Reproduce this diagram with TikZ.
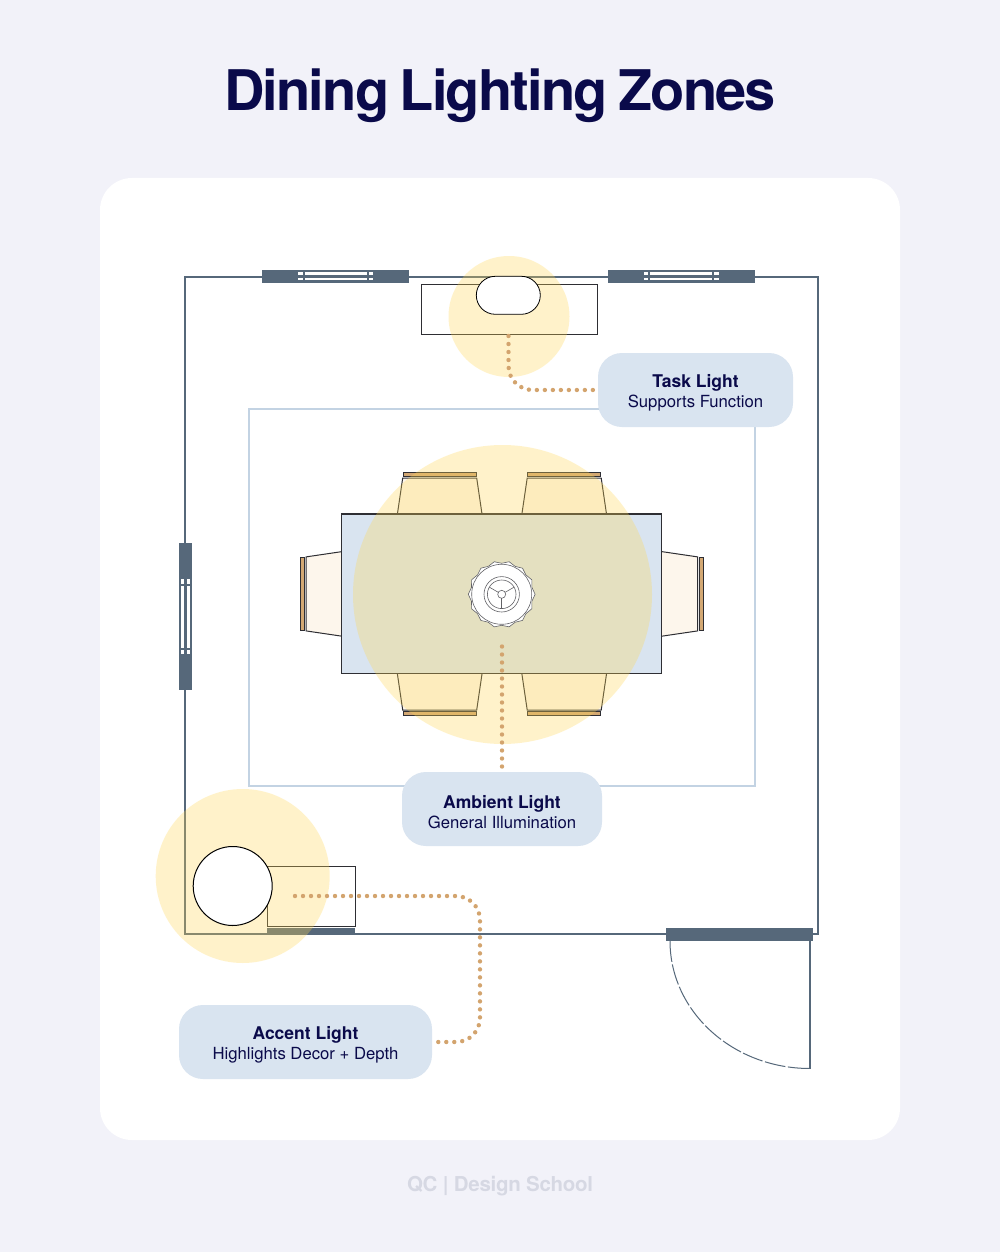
\documentclass[tikz,border=0pt]{standalone}
\usepackage{fontspec}
\setmainfont{TeX Gyre Heros}
\newfontfamily\titlefont[LetterSpace=-3.2,WordSpace=0.75]{TeX Gyre Heros}
\newfontfamily\footerfont[LetterSpace=-1.5]{TeX Gyre Heros}
\definecolor{pagebg}{HTML}{F2F2F9}
\definecolor{inkblue}{HTML}{0A0A4A}
\definecolor{wallgrey}{HTML}{56687A}
\definecolor{rugblue}{HTML}{C3D3E3}
\definecolor{paleblue}{HTML}{D9E4F0}
\definecolor{glowyellow}{HTML}{FFD752}
\definecolor{seatcream}{HTML}{FDF6EC}
\definecolor{backtan}{HTML}{D3A873}
\definecolor{dotbrown}{HTML}{D3A46E}
\definecolor{footgrey}{HTML}{D6D8E3}
\definecolor{linedark}{HTML}{2E2E33}
\tikzset{
    glowzone/.style={fill=glowyellow,fill opacity=0.3},
    callout/.style={fill=paleblue,rounded corners=24pt,inner sep=0pt,align=center,text=inkblue,
        font=\fontsize{16.7}{20}\selectfont},
    dotline/.style={draw=dotbrown,line width=4.4pt,line cap=round,dash pattern=on 0pt off 8pt,rounded corners=24pt,shorten >=4pt},
    furniture/.style={draw=linedark,line width=1pt},
    windowunit/.pic={
        \fill[wallgrey] (-73.5,-6.5) rectangle (73.5,6.5);
        \foreach \s in {-1,1} {
            \fill[white] (\s*33,-4.5) rectangle (\s*37.5,-1.3);
            \fill[white] (\s*33,1.8) rectangle (\s*37.5,4.2);
        }
        \fill[white] (-31,-4.5) rectangle (31,-1.3);
        \fill[white] (-31,1.8) rectangle (31,4.2);
    },
    diningchair/.pic={
        \draw[furniture,fill=seatcream] (-42.3,0) -- (-37,-36) -- (37,-36) -- (42.3,0);
        \draw[furniture,fill=backtan] (-36.5,-41.7) rectangle (36.5,-37.4);
    }
}
\newcommand{\labelhead}[1]{{\rule{0pt}{18.5pt}\fontsize{17.5}{20}\selectfont\bfseries #1}}
\begin{document}
\begin{tikzpicture}[x=1pt,y=-1pt]
    \useasboundingbox (0,0) rectangle (1000,1252);
    \fill[pagebg] (0,0) rectangle (1000,1252);
    \fill[white,rounded corners=32pt] (100,178) rectangle (900,1140);
    \node[text=inkblue,font=\titlefont\bfseries\fontsize{56}{60}\selectfont] (diningtitle) at (500,96) {Dining Lighting Zones};

    % room
    \draw[rugblue,line width=2pt] (248.5,408.5) rectangle (755,786);
    \draw[wallgrey,line width=2pt] (185,277.2) rectangle (818,934);
    \pic at (335.5,276.2) {windowunit};
    \pic at (681,276.2) {windowunit};
    \pic[rotate=90] at (185.5,616.5) {windowunit};
    \fill[wallgrey] (666,928) rectangle (813,941);
    \draw[wallgrey,line width=1.4pt] (810,941) -- (810,1068.5);
    \draw[wallgrey,line width=1pt,dash pattern=on 21pt off 2.5pt] (670,941) arc[start angle=180,end angle=90,x radius=140,y radius=127.5];

    % furniture
    \draw[furniture] (421.5,284) rectangle (597,334);
    \draw[furniture] (267.5,866) rectangle (355,926);
    \fill[wallgrey] (267,928) rectangle (355,934.5);
    \pic at (439.7,514) {diningchair};
    \pic at (564.2,514) {diningchair};
    \pic[rotate=180] at (439.7,674) {diningchair};
    \pic[rotate=180] at (564.2,674) {diningchair};
    \pic[rotate=90] at (342,593.9) {diningchair};
    \pic[rotate=-90] at (661.7,593.9) {diningchair};
    \draw[furniture,line width=1.2pt,fill=paleblue] (341.8,514) rectangle (661.6,673.8);

    % light zones
    \fill[glowzone] (509,316.5) circle[radius=60.5];
    \fill[glowzone] (502.5,594.5) circle[radius=149.5];
    \fill[glowzone] (242.7,876) circle[radius=87];

    % lamps
    \draw[fill=white,line width=0.8pt,rounded corners=19pt] (476.3,276.3) rectangle (540.3,314.3);
    \draw[fill=white,line width=1pt] (232.7,886) circle[radius=39.5];
    \begin{scope}[shift={(501.7,594.3)},draw=linedark!75,line width=0.6pt]
      \draw[fill=white] plot[domain=0:360,samples=29] (\x:{32.2+1.2*cos(14*\x)}) -- cycle;
      \draw (0,0) circle[radius=30];
      \draw (0,0) circle[radius=17.7];
      \draw (0,0) circle[radius=14.3];
      \draw (0,0) circle[radius=4];
      \foreach \a in {90,210,330} {
          \draw (\a:4) -- (\a:14.3);
      }
    \end{scope}

    % callouts
    \coordinate (tasklamp) at (508.5,336);
    \coordinate (ambientlamp) at (502,646.5);
    \coordinate (accentlamp) at (295,896);
    \coordinate (accentturna) at (480,896);
    \coordinate (accentturnb) at (480,1042);
    \node[callout,minimum width=195pt,minimum height=74pt] (tasklabel) at (695.5,390) {\labelhead{Task Light}\\Supports Function};
    \node[callout,minimum width=200pt,minimum height=74pt] (ambientlabel) at (502,809) {\labelhead{Ambient Light}\\General Illumination};
    \node[callout,minimum width=253pt,minimum height=74pt] (accentlabel) at (305.5,1042) {\labelhead{Accent Light}\\Highlights Decor + Depth};
    \draw[dotline] (tasklamp) |- (tasklabel.west);
    \draw[dotline] (ambientlamp) -- (ambientlabel.north);
    \draw[dotline] (accentlamp) -- (accentturna) -- (accentturnb) -- (accentlabel.east);

    \node[text=footgrey,font=\footerfont\bfseries\fontsize{20.5}{24}\selectfont] (footerlogo) at (500,1186) {QC | Design School};
\end{tikzpicture}
\end{document}
